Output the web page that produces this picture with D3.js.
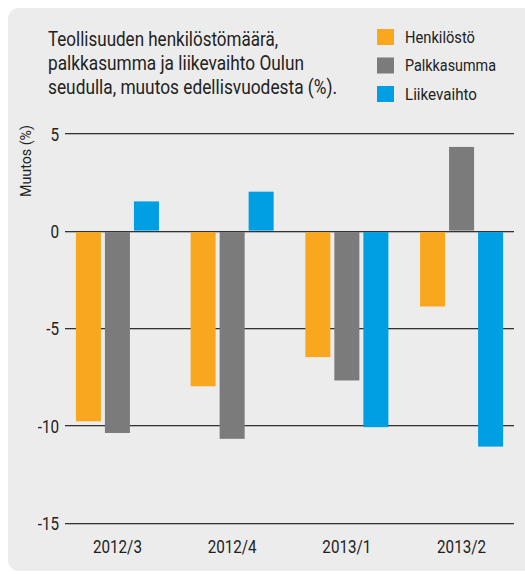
<!DOCTYPE html>
<html><head><meta charset="utf-8">
<script src="https://cdn.jsdelivr.net/npm/d3@7"></script>
<style>
html,body{margin:0;padding:0;background:#fff;}
text{font-family:Roboto,"DejaVu Sans Condensed",sans-serif;fill:#222;font-weight:400;}
</style></head>
<body><svg id="c" width="525" height="574"></svg>
<script>
const categories = ["2012/3","2012/4","2013/1","2013/2"];
const seriesNames = ["Henkilöstö","Palkkasumma","Liikevaihto"];
const henkilosto = [-9.8,-8.0,-6.5,-3.9];
const palkkasumma = [-10.4,-10.7,-7.7,4.3];
const liikevaihto = [1.5,2.0,-10.1,-11.1];
const yTicks = [5,0,-5,-10,-15];
const titleLines = ["Teollisuuden henkilöstömäärä,","palkkasumma ja liikevaihto Oulun","seudulla, muutos edellisvuodesta (%)."];
const colors = ["#f8a71f","#7b7b7b","#009fe3"];

const seriesValues = [henkilosto, palkkasumma, liikevaihto];
const svg = d3.select("#c");

function condense(sel, f){
  sel.each(function(){
    const w = this.getComputedTextLength();
    d3.select(this).attr("textLength", (w*f).toFixed(1)).attr("lengthAdjust","spacingAndGlyphs");
  });
}

svg.append("rect").attr("x",8).attr("y",8).attr("width",540).attr("height",563)
  .attr("rx",11).attr("fill","#ececec");

// title
const titleW = [230,256,289];
titleLines.forEach((t,i)=>{
  svg.append("text").attr("x",48).attr("y",46+i*24).style("font-size","21px")
    .attr("textLength",titleW[i]).attr("lengthAdjust","spacingAndGlyphs").text(t);
});

// legend
const legendW = [70,91,72];
seriesNames.forEach((s,i)=>{
  svg.append("rect").attr("x",377).attr("y",29+i*28.5).attr("width",17).attr("height",16).attr("fill",colors[i]);
  svg.append("text").attr("x",405).attr("y",42.5+i*28.5).style("font-size","17px")
    .attr("textLength",legendW[i]).attr("lengthAdjust","spacingAndGlyphs").text(s);
});

const y = d3.scaleLinear().domain([-15,5]).range([522.5,133.3]);
const x0 = d3.scaleBand().domain(categories).range([65,514]).paddingInner(0.276).paddingOuter(0.095);
const x1 = d3.scaleBand().domain(seriesNames).range([0,x0.bandwidth()]).paddingInner(0.138).paddingOuter(0);

// gridlines
const grid = svg.append("g");
yTicks.forEach(t=>{
  const yy = Math.round(y(t));
  grid.append("line").attr("x1",65).attr("x2",514).attr("y1",yy+0.5).attr("y2",yy+0.5).attr("stroke","#333").attr("stroke-width",1);
  grid.append("line").attr("x1",65).attr("x2",514).attr("y1",yy+1.5).attr("y2",yy+1.5).attr("stroke","#b5b5b5").attr("stroke-width",1);
});

// y axis labels
const yAxis = d3.axisLeft(y).tickValues(yTicks).tickSize(0).tickPadding(6).tickFormat(d=>d);
const ya = svg.append("g").attr("transform","translate(65,0)").call(yAxis);
ya.select(".domain").remove();
ya.selectAll("text").style("font-size","19px").style("font-family",null).attr("fill","#222").attr("dy","0.36em");
condense(ya.selectAll("text"), 0.8);

// bars
const groups = svg.append("g").selectAll("g").data(categories).join("g")
  .attr("transform",d=>`translate(${x0(d)},0)`);
groups.selectAll("rect").data((d,i)=>seriesNames.map((s,j)=>({s,v:seriesValues[j][i],j})))
  .join("rect")
  .attr("x",d=>x1(d.s)).attr("width",x1.bandwidth())
  .attr("y",d=>d.v>=0?y(d.v):y(0)+1.5)
  .attr("height",d=>Math.abs(y(d.v)-y(0))-(d.v>=0?0:1.5))
  .attr("fill",d=>colors[d.j]);

// x axis labels
const xAxis = d3.axisBottom(x0).tickSize(0).tickPadding(0);
const xa = svg.append("g").attr("transform","translate(0,539)").call(xAxis);
xa.select(".domain").remove();
xa.selectAll("text").style("font-size","19px").style("font-family",null).attr("fill","#222").attr("dy","0.71em");
condense(xa.selectAll("text"), 0.8);

// y title
svg.append("text").attr("transform","translate(31,161) rotate(-90)").attr("text-anchor","middle")
  .style("font-size","15px").attr("textLength",72).attr("lengthAdjust","spacingAndGlyphs").text("Muutos  (%)");
</script></body></html>
